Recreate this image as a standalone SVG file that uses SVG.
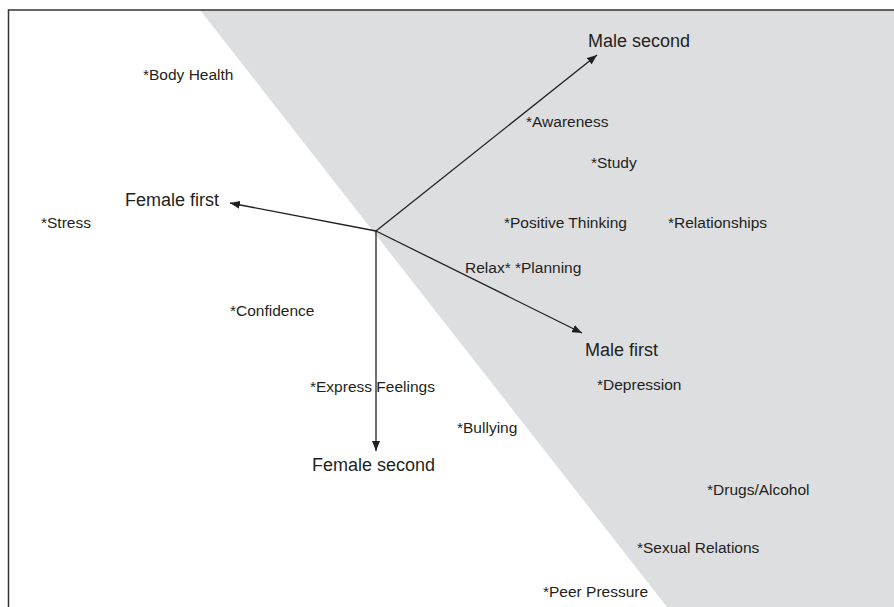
<svg xmlns="http://www.w3.org/2000/svg" width="894" height="607" viewBox="0 0 894 607">
<style>
text{font-family:"Liberation Sans",Arial,sans-serif;fill:#231f20}
.big{font-size:18px}
.sm{font-size:15.5px}
.ax{stroke:#231f20;stroke-width:1.3;fill:none;marker-end:url(#ah)}
</style>
<defs>
<marker id="ah" viewBox="0 0 10 8" refX="10" refY="4" markerWidth="10" markerHeight="8" markerUnits="userSpaceOnUse" orient="auto">
<path d="M0,0 L10,4 L0,8 Z" fill="#231f20"/>
</marker>
</defs>
<rect width="894" height="607" fill="#ffffff"/>
<polygon points="200,10 894,10 894,607 667,607" fill="#dddee0"/>
<path d="M8.5,607 V10 H894" fill="none" stroke="#333" stroke-width="1.5"/>
<g id="connectors">
<line class="ax" x1="376" y1="231" x2="597" y2="55"/>
<line class="ax" x1="376" y1="231" x2="230" y2="203"/>
<line class="ax" x1="376" y1="231" x2="582" y2="333"/>
<line class="ax" x1="376" y1="231" x2="376" y2="451"/>
</g>
<g id="male-second"><text class="big" x="588" y="47">Male second</text></g>
<g id="female-first"><text class="big" x="125" y="206">Female first</text></g>
<g id="male-first"><text class="big" x="585" y="356">Male first</text></g>
<g id="female-second"><text class="big" x="312" y="471">Female second</text></g>
<g id="labels">
<text class="sm" x="143" y="80">*Body Health</text>
<text class="sm" x="526" y="127">*Awareness</text>
<text class="sm" x="591" y="168">*Study</text>
<text class="sm" x="41" y="228">*Stress</text>
<text class="sm" x="504" y="228">*Positive Thinking</text>
<text class="sm" x="668" y="228">*Relationships</text>
<text class="sm" x="465" y="273">Relax* *Planning</text>
<text class="sm" x="230" y="316">*Confidence</text>
<text class="sm" x="597" y="390">*Depression</text>
<text class="sm" x="310" y="392">*Express Feelings</text>
<text class="sm" x="457" y="433">*Bullying</text>
<text class="sm" x="707" y="495">*Drugs/Alcohol</text>
<text class="sm" x="637" y="553">*Sexual Relations</text>
<text class="sm" x="543" y="597">*Peer Pressure</text>
</g>
</svg>
